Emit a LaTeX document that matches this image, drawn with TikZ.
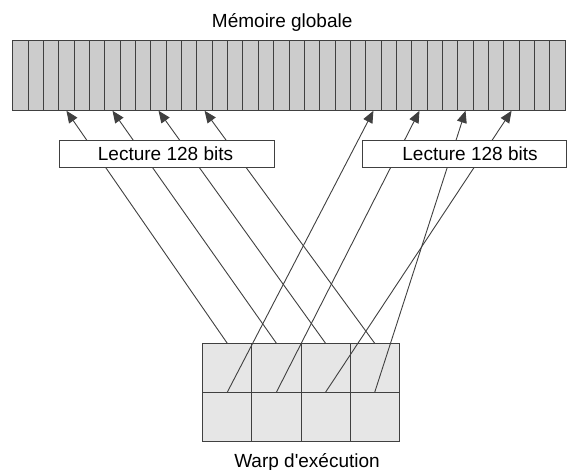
\documentclass[tikz,border=0pt]{standalone}
\usepackage{fontspec}
\setmainfont{Liberation Sans}
\usetikzlibrary{arrows.meta}
\definecolor{memfill}{RGB}{204,204,204}
\definecolor{warpfill}{RGB}{230,230,230}
\definecolor{edge}{RGB}{64,64,64}
\tikzset{
  memcell/.style={draw=edge, fill=memfill, line width=1pt, inner sep=0pt, outer sep=0pt,
    minimum width=15.35pt, minimum height=70.5pt},
  warpcell/.style={draw=edge, fill=warpfill, line width=1pt, inner sep=0pt, outer sep=0pt,
    minimum width=49.15pt, minimum height=48.9pt},
  readbox/.style={draw=edge, fill=white, line width=1pt, inner sep=0pt, outer sep=0pt,
    minimum height=27pt},
  conn/.style={draw=edge, line width=0.9pt},
  connarrow/.style={conn, -{Triangle[length=12pt,width=10pt]}},
  lbl/.style={inner sep=0pt, anchor=base, font=\fontsize{19}{22}\selectfont},
}
\begin{document}
\begin{tikzpicture}[x=1pt,y=-1pt]
\useasboundingbox (0,0) rectangle (567,470);
\begin{scope}
\clip (0,0) rectangle (567,470);
% title
\node[lbl] (title) at (282.2,28) {Mémoire globale};
% memory cells
\foreach \i in {0,...,35}{
  \node[memcell] (m\i) at ({12.7+15.35*(\i+0.5)},75.5) {};
}
% warp cells
\foreach \k in {0,...,3}{
  \node[warpcell] (wt\k) at ({202.7+49.15*(\k+0.5)},367.75) {};
  \node[warpcell] (wb\k) at ({202.7+49.15*(\k+0.5)},416.65) {};
}
\node[lbl] (warp) at (307,467) {Warp d\textquotesingle exécution};
% connectors, left group
\draw[connarrow] (wt0.north) -- (m3.south);
\draw[connarrow] (wt1.north) -- (m6.south);
\draw[connarrow] (wt2.north) -- (m9.south);
\draw[connarrow] (wt3.north) -- (m12.south);
% connectors, right group
\draw[connarrow] (wb0.north) -- (m23.south);
\draw[connarrow] (wb1.north) -- (m26.south);
\draw[connarrow] (wb2.north) -- (m32.south);
\draw[connarrow] (wb3.north) -- (m29.south);
% read boxes
\node[readbox, minimum width=214.7pt] (readL) at (166.65,154.5) {};
\node[lbl] (readLtxt) at (165.5,160.8) {Lecture 128 bits};
\node[readbox, minimum width=204pt] (readR) at (464.3,154.5) {};
\node[lbl] (readRtxt) at (470,160.8) {Lecture 128 bits};
\end{scope}
\end{tikzpicture}
\end{document}
